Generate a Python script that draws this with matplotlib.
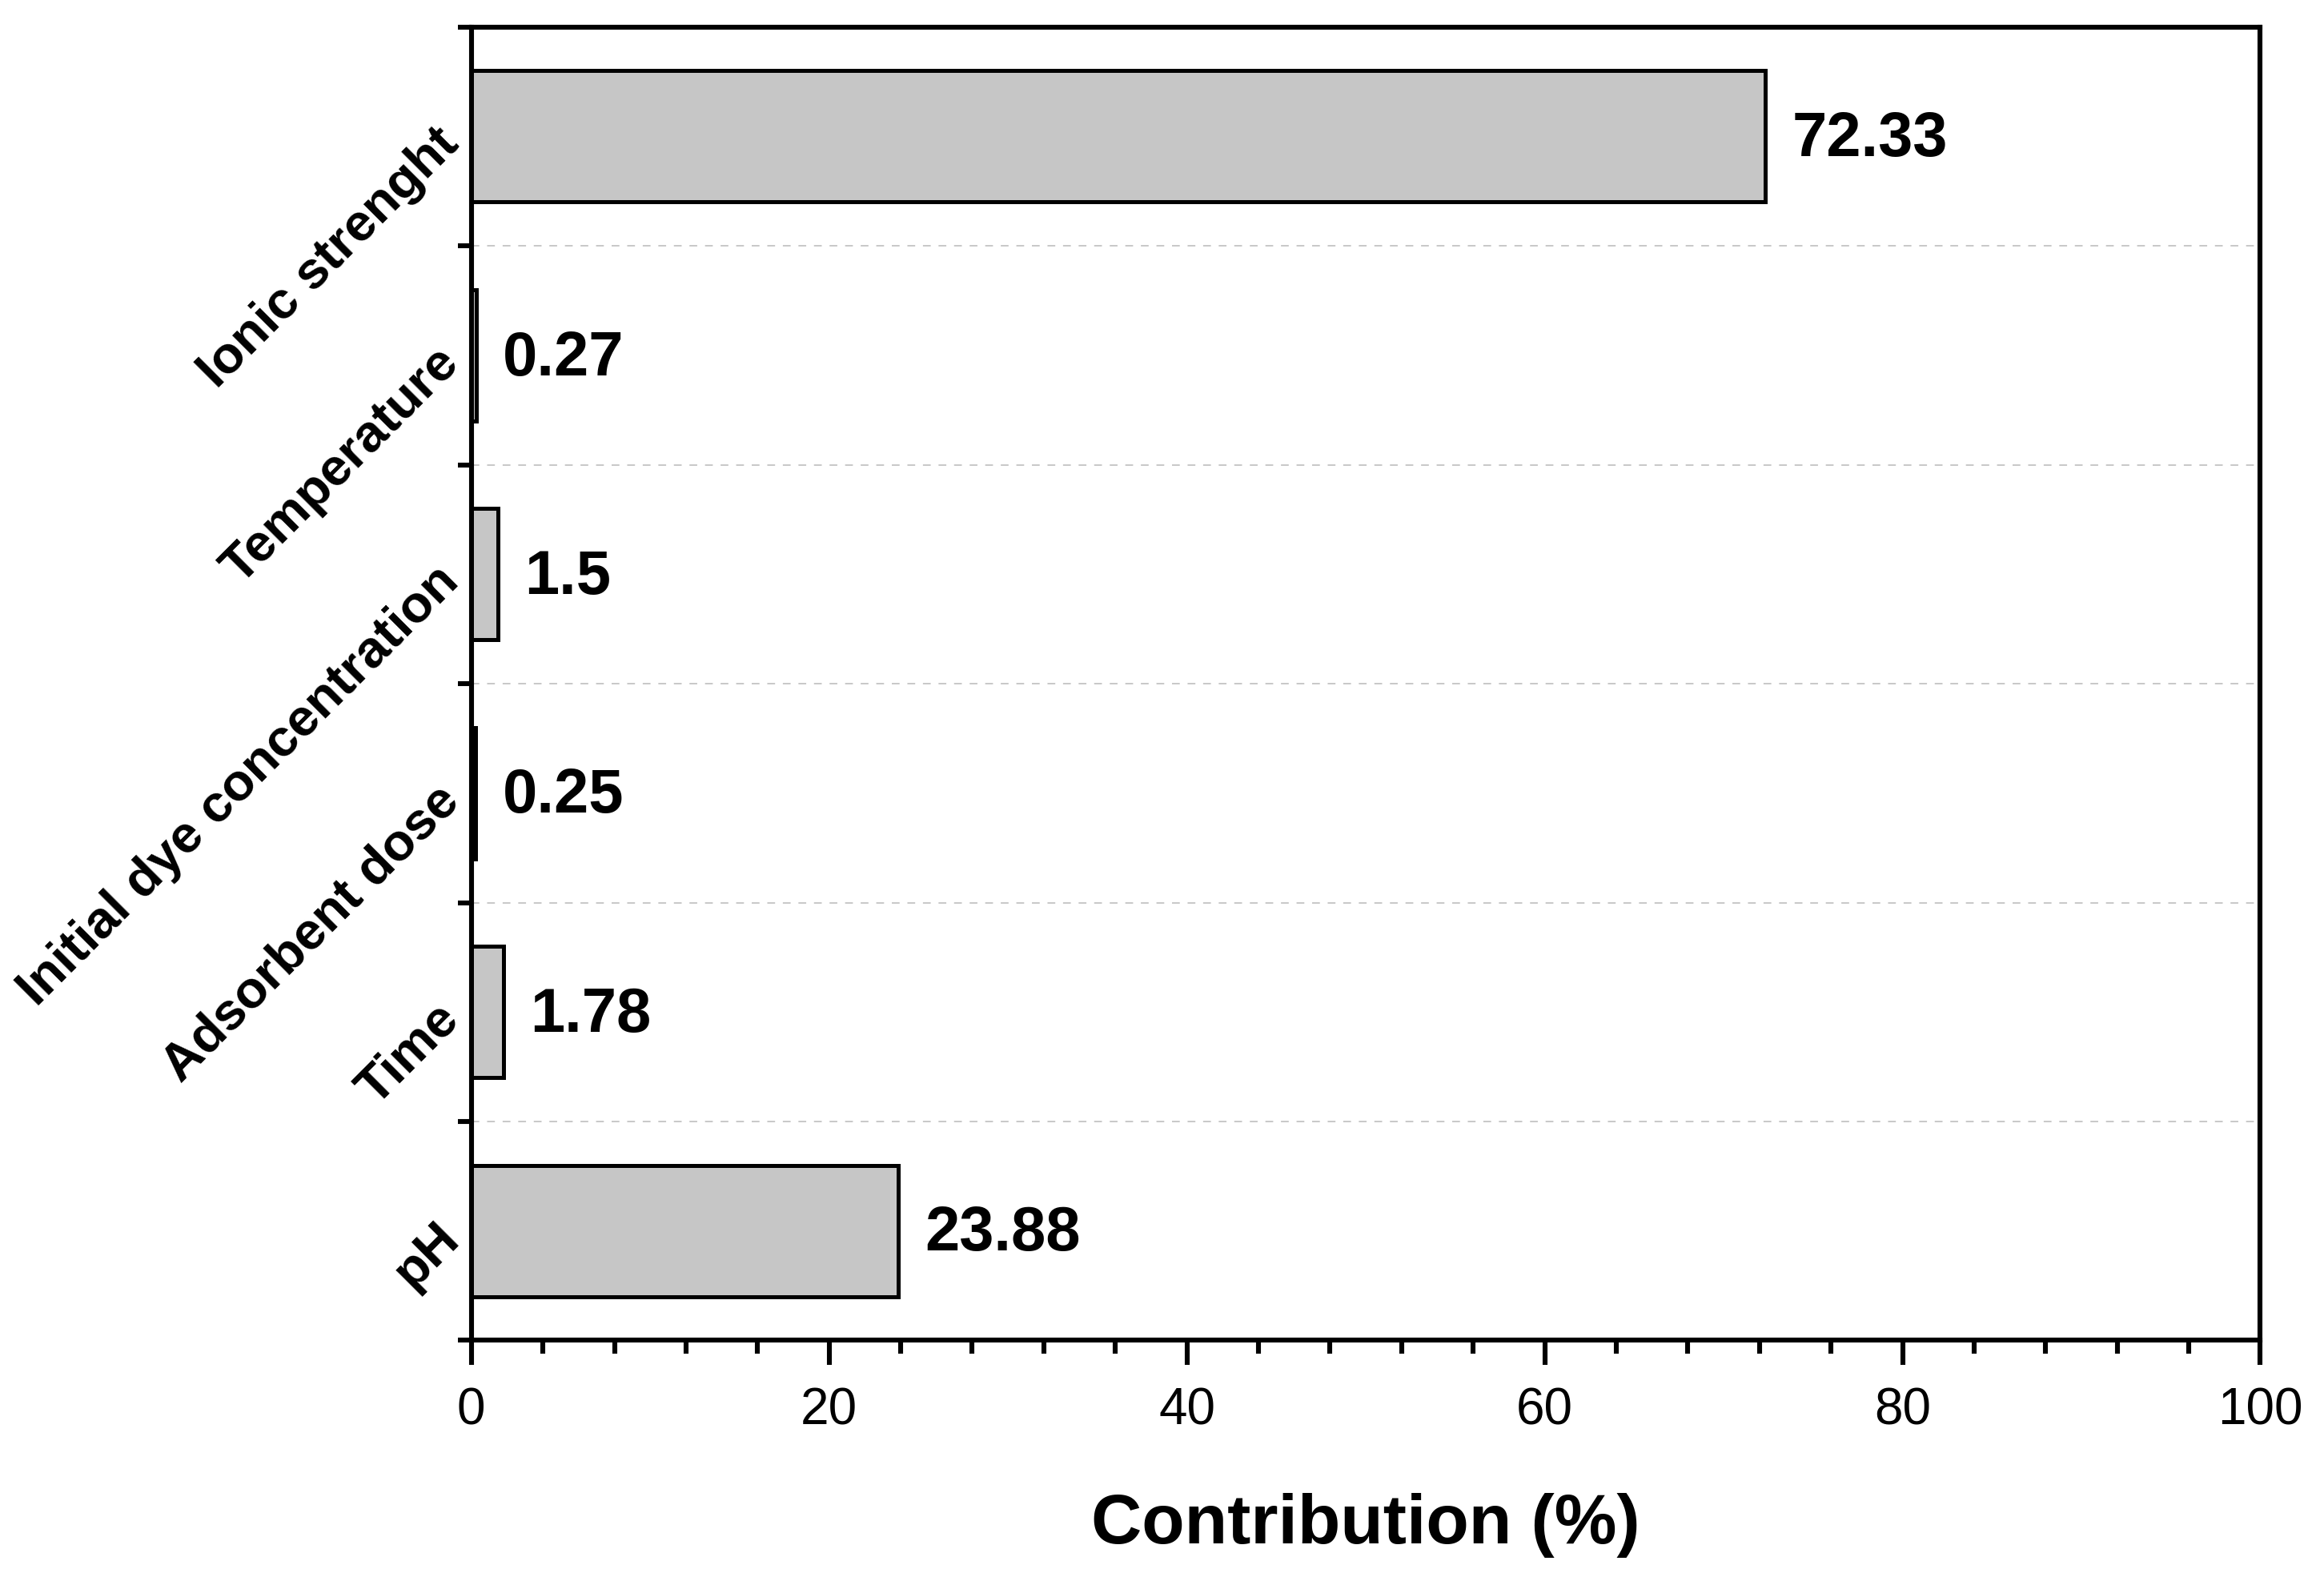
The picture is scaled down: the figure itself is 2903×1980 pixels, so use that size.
import matplotlib
matplotlib.use("Agg")
import matplotlib.pyplot as plt
from matplotlib.ticker import MultipleLocator, FixedLocator
import numpy as np

categories = ["pH", "Time", "Adsorbent dose", "Initial dye concentration", "Temperature", "Ionic strenght"]
values = [23.88, 1.78, 0.25, 1.5, 0.27, 72.33]
value_labels = ["23.88", "1.78", "0.25", "1.5", "0.27", "72.33"]

plt.rcParams['font.family'] = ['Liberation Sans', 'DejaVu Sans']

fig = plt.figure(figsize=(14.515, 9.9), dpi=200)
ax = fig.add_axes([0.2028, 0.1543, 0.9726 - 0.2028, 0.983 - 0.1543])

y = np.arange(len(categories))
ax.barh(y, values, height=0.6, color="#c6c6c6", edgecolor="black", linewidth=1.8, zorder=3)

for yi, v, lab in zip(y, values, value_labels):
    ax.annotate(lab, xy=(v, yi), xytext=(12, -1.5), textcoords="offset points",
                ha="left", va="center", fontsize=28, fontweight="bold", zorder=4)

ax.set_xlim(0, 100)
ax.set_ylim(-0.5, len(categories) - 0.5)

ax.xaxis.set_major_locator(MultipleLocator(20))
ax.xaxis.set_minor_locator(MultipleLocator(4))
ax.tick_params(axis="x", which="major", direction="out", length=11, width=2.2, labelsize=23, pad=10)
ax.tick_params(axis="x", which="minor", direction="out", length=6, width=2.2)

ax.set_yticks(y)
ax.set_yticklabels(categories, rotation=45, ha="right", va="center", rotation_mode="anchor",
                   fontsize=23.5, fontweight="bold")
ax.yaxis.set_minor_locator(FixedLocator(np.arange(-0.5, len(categories), 1.0)))
ax.tick_params(axis="y", which="major", length=0, pad=9)
ax.tick_params(axis="y", which="minor", direction="out", length=6, width=2.2)

ax.grid(axis="y", which="minor", color="#c8c8c8", linestyle=(0, (5, 5)), linewidth=0.7, zorder=0)

for s in ax.spines.values():
    s.set_linewidth(2.2)

ax.set_xlabel("Contribution (%)", fontsize=31.5, fontweight="bold", labelpad=26)

fig.savefig("out.png", dpi=200)
